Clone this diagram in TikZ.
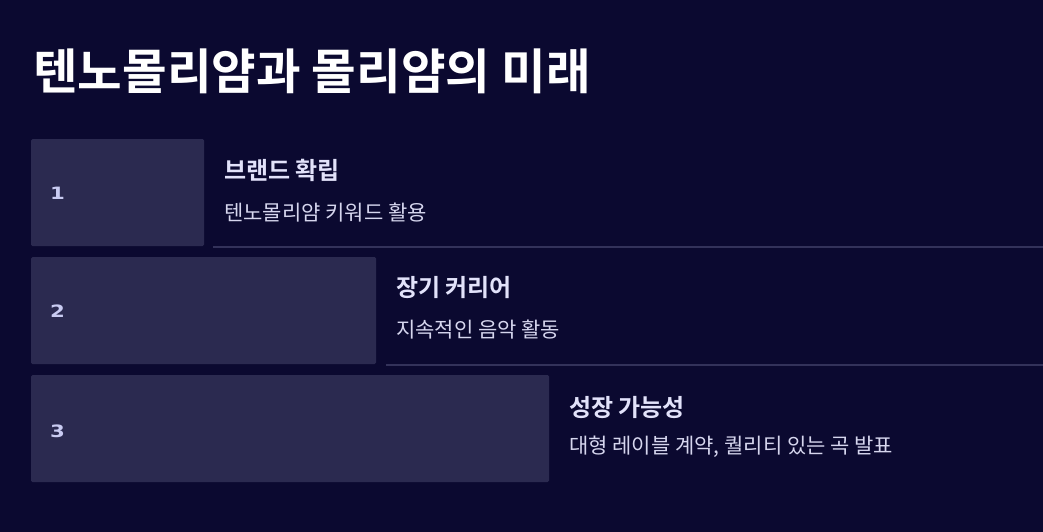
\documentclass[tikz,border=0pt]{standalone}
\usepackage{fontspec}
\newfontfamily\krfont{Noto Sans CJK KR}
\newfontfamily\krbold{Noto Sans CJK KR Bold}
\newfontfamily\numfont[FakeStretch=1.25]{DejaVu Sans Bold}
\definecolor{bg}{HTML}{0B0930}
\definecolor{boxc}{HTML}{2B2A50}
\definecolor{linec}{HTML}{33325A}
\definecolor{headc}{HTML}{E2E2FA}
\definecolor{descc}{HTML}{D6D6EE}
\definecolor{numc}{HTML}{C9CBF2}
\tikzset{
  stepbox/.style={fill=boxc, rounded corners=1.5pt},
  numtxt/.style={anchor=west, text=numc, font=\numfont\fontsize{17}{20}\selectfont, inner sep=0},
  headtxt/.style={anchor=west, text=headc, font=\krbold\fontsize{24}{28}\selectfont, inner sep=0},
  desctxt/.style={anchor=west, text=descc, font=\krfont\fontsize{21}{25}\selectfont, inner sep=0},
  sepline/.style={draw=linec, line width=2pt}
}
\begin{document}
\begin{tikzpicture}[x=1pt,y=-1pt]
\fill[bg] (0,0) rectangle (1043,532);
\useasboundingbox (0,0) rectangle (1043,532);
\node[anchor=west, text=white, font=\krbold\fontsize{48.5}{54}\selectfont, inner sep=0] (title) at (33,71) {텐노몰리얌과 몰리얌의 미래};
% row 1
\fill[stepbox] (31,139) rectangle (204,246);
\node[numtxt] (n1) at (50,193) {1};
\node[headtxt] (h1) at (224,170) {브랜드 확립};
\node[desctxt] (d1) at (224,212.5) {텐노몰리얌 키워드 활용};
\coordinate (l1a) at (213,247); \coordinate (l1b) at (1043,247);
\draw[sepline] (l1a) -- (l1b);
% row 2
\fill[stepbox] (31,257) rectangle (376,364);
\node[numtxt] (n2) at (50,311) {2};
\node[headtxt] (h2) at (396,288) {장기 커리어};
\node[desctxt] (d2) at (396,330) {지속적인 음악 활동};
\coordinate (l2a) at (386,365); \coordinate (l2b) at (1043,365);
\draw[sepline] (l2a) -- (l2b);
% row 3
\fill[stepbox] (31,375) rectangle (549,482);
\node[numtxt] (n3) at (50,431) {3};
\node[headtxt] (h3) at (569,407) {성장 가능성};
\node[desctxt] (d3) at (569,447) {대형 레이블 계약, 퀄리티 있는 곡 발표};
\end{tikzpicture}
\end{document}
